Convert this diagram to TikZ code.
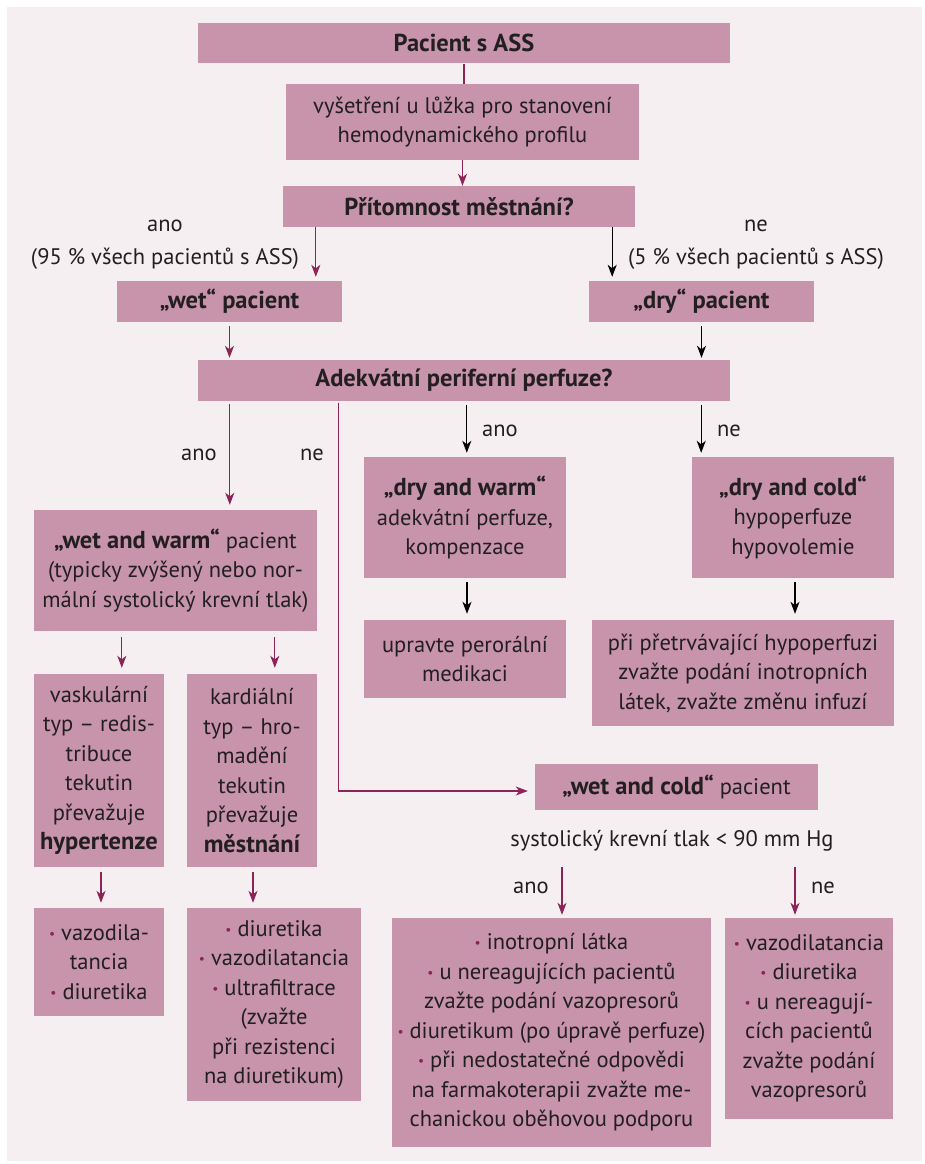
\documentclass[tikz,border=0pt]{standalone}
\usepackage{fontspec}
\setmainfont{PT Sans}
\usetikzlibrary{arrows.meta,calc}
\definecolor{bgc}{HTML}{F5EFF2}
\definecolor{boxc}{HTML}{C794AB}
\definecolor{mag}{HTML}{8C2457}
\definecolor{txt}{HTML}{231F20}
\newcommand{\bul}{{\color{mag}\raisebox{0.2ex}{\scalebox{0.6}{\textbullet}}}\ }
\newcommand{\bb}[1]{{\fontsize{24.5}{29.5}\selectfont\bfseries #1}}
\begin{document}
\begin{tikzpicture}[x=1pt,y=-1pt,
  every node/.style={text=txt, font=\fontsize{22.5}{29.5}\selectfont},
  box/.style={fill=boxc, inner sep=0pt, align=center},
  lbl/.style={inner sep=0pt, align=center},
  tip/.tip={Stealth[length=12pt,width=9pt,inset=3.5pt]},
  am/.style={draw=mag, line width=1.1pt, -tip},
  ab/.style={draw=black, line width=1.1pt, -tip},
  lm/.style={draw=mag, line width=1.1pt}]
\useasboundingbox (0,0) rectangle (925,1164);
\fill[white] (0,0) rectangle (925,1164);
\fill[bgc] (7,7) rectangle (922,1161);

% boxes
\node[box, minimum width=532pt, minimum height=40.5pt] (pac) at (464,43.25) {\bb{Pacient s ASS}};
\node[box, minimum width=353pt, minimum height=76pt] (vys) at (462.5,122) {vyšetření u lůžka pro stanovení\\hemodynamického profilu};
\node[box, minimum width=352pt, minimum height=41pt] (prit) at (459,206.5) {\bb{Přítomnost městnání?}};
\node[box, minimum width=225pt, minimum height=41pt] (wet) at (229.5,301.5) {\bb{„wet“ pacient}};
\node[box, minimum width=225pt, minimum height=41pt] (dry) at (701.5,301.5) {\bb{„dry“ pacient}};
\node[box, minimum width=532pt, minimum height=40.5pt] (ade) at (464,380.25) {\bb{Adekvátní periferní perfuze?}};
\node[box, minimum width=283pt, minimum height=121pt] (ww) at (175.5,570.5) {\bb{„wet and warm“} pacient\\(typicky zvýšený nebo nor-\\mální systolický krevní tlak)};
\node[box, minimum width=202pt, minimum height=121pt] (dw) at (465,517.5) {\bb{„dry and warm“}\\adekvátní perfuze,\\kompenzace};
\node[box, minimum width=202pt, minimum height=121pt] (dc) at (793,517.5) {\bb{„dry and cold“}\\hypoperfuze\\hypovolemie};
\node[box, minimum width=202pt, minimum height=78pt] (upr) at (465,659) {upravte perorální\\medikaci};
\node[box, minimum width=302pt, minimum height=106pt] (pri) at (743,673) {při přetrvávající hypoperfuzi\\zvažte podání inotropních\\látek, zvažte změnu infuzí};
\node[box, minimum width=130pt, minimum height=193pt] (vask) at (99,770.5) {vaskulární\\typ – redis-\\tribuce\\tekutin\\převažuje\\\bb{hypertenze}};
\node[box, minimum width=130pt, minimum height=193pt] (kard) at (252,770.5) {kardiální\\typ – hro-\\madění\\tekutin\\převažuje\\\bb{městnání}};
\node[box, minimum width=130pt, minimum height=108pt] (vaz) at (99,962) {\bul vazodila-\\tancia\\\bul diuretika};
\node[box, minimum width=174pt, minimum height=193pt] (diu) at (274,1004.5) {\bul diuretika\\\bul vazodilatancia\\\bul ultrafiltrace\\(zvažte\\při rezistenci\\na diuretikum)};
\node[box, minimum width=283pt, minimum height=46pt] (wc) at (676.5,787) {\bb{„wet and cold“} pacient};
\node[box, minimum width=319pt, minimum height=229pt] (big) at (551.5,1032.5) {\bul inotropní látka\\\bul u nereagujících pacientů\\zvažte podání vazopresorů\\\bul diuretikum (po úpravě perfuze)\\\bul při nedostatečné odpovědi\\na farmakoterapii zvažte me-\\chanickou oběhovou podporu};
\node[box, minimum width=168pt, minimum height=201pt] (rt) at (809,1018.5) {\bul vazodilatancia\\\bul diuretika\\\bul u nereagují-\\cích pacientů\\zvažte podání\\vazopresorů};

% labels
\node[lbl] (l1) at (165,245) {ano\\[3.5pt](95 \% všech pacientů s ASS)};
\node[lbl] (l2) at (756,245) {ne\\[3.5pt](5 \% všech pacientů s ASS)};
\node[lbl] (l3) at (199,455) {ano};
\node[lbl] (l4) at (312,455) {ne};
\node[lbl] (l5) at (500,431) {ano};
\node[lbl] (l6) at (729,431) {ne};
\node[lbl] (sys) at (672,841) {systolický krevní tlak < 90 mm Hg};
\node[lbl] (l7) at (531,888) {ano};
\node[lbl] (l8) at (823,888) {ne};

% coordinates
\coordinate (a1) at ([xshift=33pt]prit.south west);
\coordinate (a2) at ([xshift=-23pt]prit.south east);
\coordinate (a3) at ([xshift=32pt]ade.south west);
\coordinate (a4) at ([xshift=141pt]ade.south west);
\coordinate (a5) at ([xshift=269pt]ade.south west);
\coordinate (a6) at ([xshift=-29pt]ade.south east);
\coordinate (a7) at ([xshift=88pt]ww.south west);
\coordinate (a8) at ([xshift=241pt]ww.south west);
\coordinate (a9) at ([xshift=2pt]vask.south);
\coordinate (a10) at ([xshift=1pt]kard.south);
\coordinate (a11) at ([xshift=2pt]dw.south);
\coordinate (a12) at ([xshift=2pt]dc.south);
\coordinate (s1) at (562,867);
\coordinate (s2) at (795,867);
\coordinate (wcin) at ([yshift=-4pt]wc.west);

% connectors
\draw[lm] (pac.south) -- (pac.south |- vys.north);
\draw[am] (vys.south) -- (vys.south |- prit.north);
\draw[am, shorten >=4pt] (a1) -- (a1 |- wet.north);
\draw[ab, shorten >=4pt] (a2) -- (a2 |- dry.north);
\draw[am, shorten <=4pt, shorten >=2pt] (wet.south) -- (wet.south |- ade.north);
\draw[ab, shorten <=4pt, shorten >=2pt] (dry.south) -- (dry.south |- ade.north);
\draw[am, shorten <=3pt, shorten >=5pt] (a3) -- (a3 |- ww.north);
\draw[am, shorten <=2pt, shorten >=7pt] (a4) |- (wcin);
\draw[ab, shorten <=4pt, shorten >=4pt] (a5) -- (a5 |- dw.north);
\draw[ab, shorten <=4pt, shorten >=4pt] (a6) -- (a6 |- dc.north);
\draw[am, shorten <=6pt, shorten >=6pt] (a7) -- (a7 |- vask.north);
\draw[am, shorten <=6pt, shorten >=6pt] (a8) -- (a8 |- kard.north);
\draw[am, shorten <=5pt, shorten >=5pt] (a9) -- (a9 |- vaz.north);
\draw[am, shorten <=5pt, shorten >=5pt] (a10) -- (a10 |- diu.north);
\draw[ab, shorten <=4pt, shorten >=6pt] (a11) -- (a11 |- upr.north);
\draw[ab, shorten <=4pt, shorten >=6pt] (a12) -- (a12 |- pri.north);
\draw[am, shorten >=3pt] (s1) -- (s1 |- big.north);
\draw[am, shorten >=3pt] (s2) -- (s2 |- rt.north);
\end{tikzpicture}
\end{document}
